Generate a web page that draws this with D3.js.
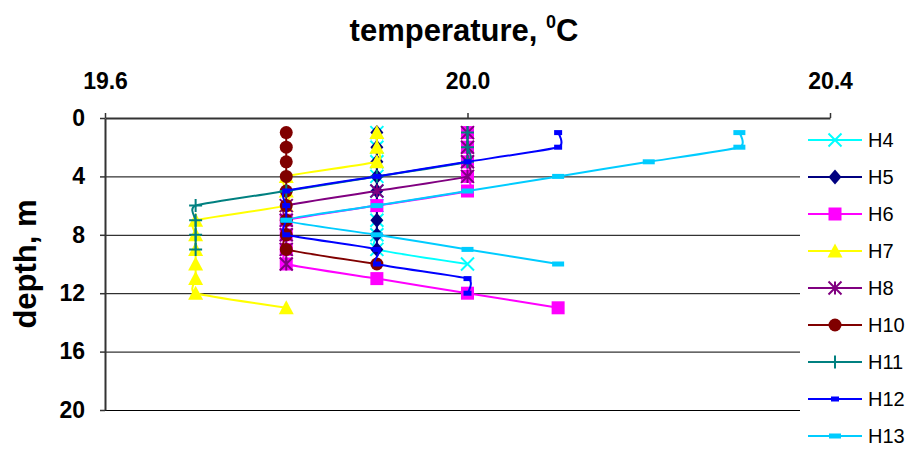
<!DOCTYPE html>
<html>
<head>
<meta charset="utf-8">
<script src="https://cdn.jsdelivr.net/npm/d3@7"></script>
<style>
  body { margin: 0; background: #fff; }
  svg { display: block; font-family: Arial, "Liberation Sans", sans-serif; }
</style>
</head>
<body>
<svg id="chart" width="909" height="450"></svg>
<script>
// depth (m) of each reading, one per metre
const depths = [1, 2, 3, 4, 5, 6, 7, 8, 9, 10, 11, 12, 13];

const seriesNames = ["H4", "H5", "H6", "H7", "H8", "H10", "H11", "H12", "H13"];
const seriesColors = ["#00ffff", "#000080", "#ff00ff", "#ffff00", "#800080", "#800000", "#008080", "#0000ff", "#00ccff"];
const seriesMarkers = ["x", "diamond", "square", "triangle", "star", "circle", "plus", "dash", "longdash"];

// temperatures (degC), from depth 1 downwards
const h4 = [19.9, 19.9, 19.9, 19.9, 19.9, 19.9, 19.9, 19.9, 19.9, 20.0];
const h5 = [19.9, 19.9, 19.9, 19.9, 19.9, 19.9, 19.9, 19.9, 19.9];
const h6 = [20.0, 20.0, 20.0, 20.0, 20.0, 19.9, 19.8, 19.8, 19.8, 19.8, 19.9, 20.0, 20.1];
const h7 = [19.9, 19.9, 19.9, 19.8, 19.8, 19.8, 19.7, 19.7, 19.7, 19.7, 19.7, 19.7, 19.8];
const h8 = [20.0, 20.0, 20.0, 20.0, 19.9, 19.8, 19.8, 19.8, 19.8, 19.8];
const h10 = [19.8, 19.8, 19.8, 19.8, 19.8, 19.8, 19.8, 19.8, 19.8, 19.9];
const h11 = [20.0, 20.0, 20.0, 19.9, 19.8, 19.7, 19.7, 19.7, 19.7];
const h12 = [20.1, 20.1, 20.0, 19.9, 19.8, 19.8, 19.8, 19.8, 19.9, 19.9, 20.0, 20.0];
const h13 = [20.3, 20.3, 20.2, 20.1, 20.0, 19.9, 19.8, 19.9, 20.0, 20.1];
const seriesTemps = [h4, h5, h6, h7, h8, h10, h11, h12, h13];

const xTicks = [19.6, 20.0, 20.4];
const yTicks = [0, 4, 8, 12, 16, 20];

const svg = d3.select("#chart");
const plotLeft = 105, plotRight = 830, plotTop = 118, plotBottom = 410;

const x = d3.scaleLinear().domain([19.6, 20.4]).range([plotLeft, plotRight]);
const y = d3.scaleLinear().domain([0, 20]).range([plotTop, plotBottom]);

// gridlines
svg.append("g")
	.attr("transform", `translate(${plotLeft},0)`)
	.call(d3.axisLeft(y).tickValues(yTicks.slice(1)).tickSize(-(plotRight - plotLeft)).tickFormat(""))
	.call(g => g.select(".domain").remove())
	.call(g => g.selectAll("line").attr("stroke", "#000").attr("stroke-width", 1));

// x axis on top
svg.append("g")
	.attr("transform", `translate(0,${plotTop})`)
	.call(d3.axisTop(x).tickValues(xTicks).tickFormat(d3.format(".1f")).tickSize(5).tickSizeOuter(0).tickPadding(24))
	.call(g => g.select(".domain").attr("stroke", "#333").attr("stroke-width", 2))
	.call(g => g.selectAll("line").attr("stroke", "#333").attr("stroke-width", 1.5))
	.call(g => g.selectAll("text").attr("font-size", 23).attr("font-weight", "bold").attr("fill", "#000").attr("font-family", "Arial, 'Liberation Sans', sans-serif"));

// y axis
svg.append("g")
	.attr("transform", `translate(${plotLeft},0)`)
	.call(d3.axisLeft(y).tickValues(yTicks).tickSize(5).tickSizeOuter(0).tickPadding(15))
	.call(g => g.select(".domain").attr("stroke", "#333").attr("stroke-width", 2))
	.call(g => g.selectAll("line").attr("stroke", "#333").attr("stroke-width", 1.5))
	.call(g => g.selectAll("text").attr("font-size", 23).attr("font-weight", "bold").attr("fill", "#000").attr("font-family", "Arial, 'Liberation Sans', sans-serif"));

// titles
const title = svg.append("text")
	.attr("x", 464)
	.attr("y", 41)
	.attr("text-anchor", "middle")
	.attr("font-size", 31)
	.attr("font-weight", "bold");
title.append("tspan").text("temperature, ");
title.append("tspan").attr("font-size", 18).attr("dy", -13).text("0");
title.append("tspan").attr("dy", 13).text("C");

svg.append("text")
	.attr("transform", `translate(36,${(plotTop + plotBottom) / 2}) rotate(-90)`)
	.attr("text-anchor", "middle")
	.attr("font-size", 31)
	.attr("font-weight", "bold")
	.text("depth, m");

function drawMarker(g, type, cx, cy, color) {
	const s = 6.5;
	if (type === "x") {
		g.append("path").attr("d", `M${cx - s},${cy - s}L${cx + s},${cy + s}M${cx - s},${cy + s}L${cx + s},${cy - s}`)
			.attr("stroke", color).attr("stroke-width", 2).attr("fill", "none");
	} else if (type === "diamond") {
		g.append("path").attr("d", `M${cx},${cy - s - 1}L${cx + s},${cy}L${cx},${cy + s + 1}L${cx - s},${cy}Z`).attr("fill", color);
	} else if (type === "square") {
		g.append("rect").attr("x", cx - s).attr("y", cy - s).attr("width", 2 * s).attr("height", 2 * s).attr("fill", color);
	} else if (type === "triangle") {
		g.append("path").attr("d", `M${cx},${cy - s - 1}L${cx + s + 1},${cy + s}L${cx - s - 1},${cy + s}Z`).attr("fill", color);
	} else if (type === "star") {
		g.append("path").attr("d", `M${cx - s},${cy - s}L${cx + s},${cy + s}M${cx - s},${cy + s}L${cx + s},${cy - s}M${cx},${cy - s}L${cx},${cy + s}`)
			.attr("stroke", color).attr("stroke-width", 2).attr("fill", "none");
	} else if (type === "circle") {
		g.append("circle").attr("cx", cx).attr("cy", cy).attr("r", s).attr("fill", color);
	} else if (type === "plus") {
		g.append("path").attr("d", `M${cx - s},${cy}L${cx + s},${cy}M${cx},${cy - s}L${cx},${cy + s}`)
			.attr("stroke", color).attr("stroke-width", 2).attr("fill", "none");
	} else if (type === "dash") {
		g.append("rect").attr("x", cx - 4).attr("y", cy - 2.5).attr("width", 8).attr("height", 5).attr("fill", color);
	} else if (type === "longdash") {
		g.append("rect").attr("x", cx - 6).attr("y", cy - 2.5).attr("width", 12).attr("height", 5).attr("fill", color);
	}
}

// smoothed lines, like the spreadsheet's "smoothed line" option
const line = d3.line()
	.x(d => x(d.t))
	.y(d => y(d.d))
	.curve(d3.curveCardinal.tension(0.5));

const plot = svg.append("g");
seriesNames.forEach((name, i) => {
	const pts = seriesTemps[i].map((t, j) => ({ t: t, d: depths[j] }));
	const g = plot.append("g").attr("class", `series_${name}`);
	g.append("path")
		.attr("d", line(pts))
		.attr("fill", "none")
		.attr("stroke", seriesColors[i])
		.attr("stroke-width", 2);
	pts.forEach(p => drawMarker(g, seriesMarkers[i], x(p.t), y(p.d), seriesColors[i]));
});

// legend (white box overlapping the plot)
const legend = svg.append("g");
legend.append("rect").attr("x", 800).attr("y", 125).attr("width", 109).attr("height", 325).attr("fill", "#fff");
seriesNames.forEach((name, i) => {
	const ly = 140 + i * 37;
	legend.append("line").attr("x1", 808).attr("x2", 862).attr("y1", ly).attr("y2", ly)
		.attr("stroke", seriesColors[i]).attr("stroke-width", 2);
	drawMarker(legend, seriesMarkers[i], 835, ly, seriesColors[i]);
	legend.append("text").attr("x", 868).attr("y", ly).attr("dy", "0.35em")
		.attr("font-size", 20).text(name);
});
</script>
</body>
</html>
